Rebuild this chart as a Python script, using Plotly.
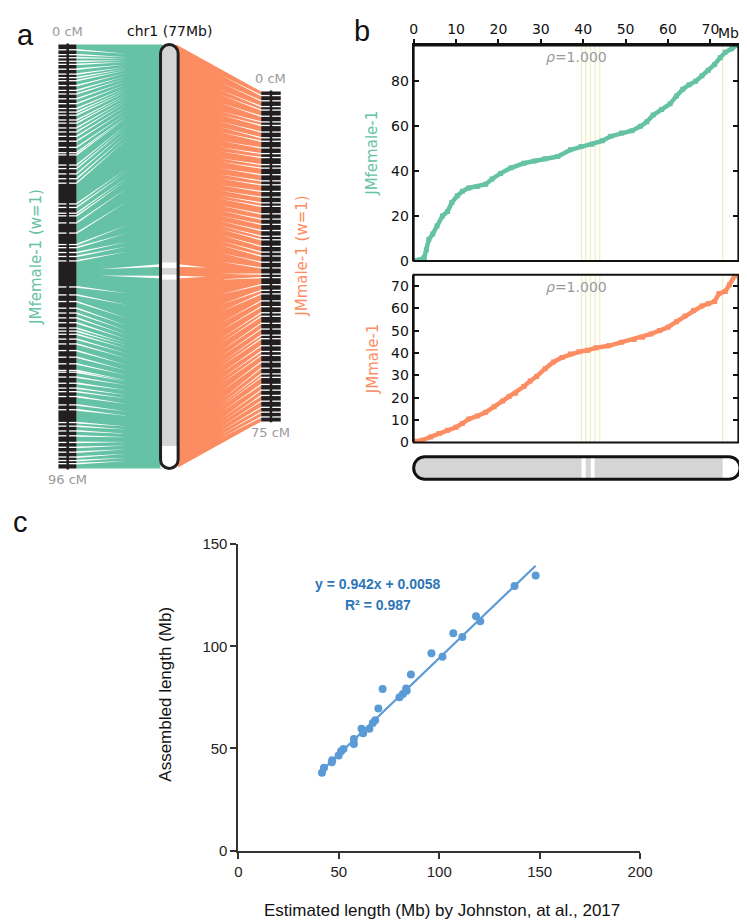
import numpy as np
import plotly.graph_objects as go

W, H = 747, 920

# ---------------- data ----------------
# panel b: genetic position (cM) vs physical position (Mb)
female_Mb = [0, 1.5, 2.5, 3.0, 3.6, 4.5, 5.5, 6.8, 8.0, 9.0, 10.3, 11.5, 13.0, 15.0, 17.0,
             18.5, 20.5, 23.0, 26.0, 28.5, 31.0, 34.0, 37.0, 39.5, 42.0, 44.5, 46.5, 49.0,
             51.5, 53.5, 55.0, 56.5, 58.5, 60.5, 62.0, 63.5, 65.0, 66.5, 68.0, 69.5, 71.0,
             72.3, 73.5, 75.0, 76.2]
female_cM = [0, 0.5, 1.5, 5.0, 9.6, 12.0, 15.5, 20.0, 22.0, 26.0, 29.0, 31.0, 32.5, 33.2, 34.2,
             36.5, 39.0, 41.5, 43.5, 44.5, 45.5, 46.5, 49.5, 51.0, 52.0, 53.5, 55.5, 57.0,
             58.0, 60.0, 62.0, 65.0, 67.5, 70.0, 73.5, 76.5, 78.5, 80.0, 82.5, 85.0, 87.5,
             90.5, 93.0, 94.5, 96.0]
male_Mb = [0, 2, 4, 6, 8, 10, 11.5, 13, 15, 17, 19, 21, 22.5, 24, 26, 27.5, 29, 31, 33, 35,
           37, 39, 41, 43, 46, 49, 52, 54, 56, 58, 60, 62, 64, 66, 68, 69.5, 71, 72, 73.5,
           74.5, 75.7]
male_cM = [0.5, 1, 2.5, 4, 5.5, 6.8, 8.5, 10.5, 11.8, 13.5, 16, 18.5, 20.5, 22, 25, 27.5,
           29.5, 33, 36, 38, 39.5, 40.5, 41.2, 42.3, 43.2, 44.8, 46, 47, 48.5, 50, 51.5, 54,
           56.5, 59, 61, 62, 63, 66.5, 67.5, 70.5, 74.5]
chr_name = "chr1"
chr_length_Mb = 77
female_map_len_cM = 96
male_map_len_cM = 75
chr_gaps_Mb = [(39.6, 40.6), (41.8, 42.7), (72.9, 77.0)]
gap_marks_Mb = [39.6, 40.6, 41.7, 42.8, 43.9, 72.9]
rho_female = 1.000
rho_male = 1.000
b_xticks = [0, 10, 20, 30, 40, 50, 60, 70]
b_female_yticks = [0, 20, 40, 60, 80]
b_male_yticks = [0, 10, 20, 30, 40, 50, 60, 70]

# panel a: gaps between markers on the two linkage maps (cM)
female_map_gaps_cM = [1.2, 2.3, 3.0, 3.8, 4.5, 5.6, 6.7, 7.5, 8.2, 9.3, 10.4, 11.2, 12.3, 13.4,
                      14.5, 15.3, 16.0, 17.1, 17.8, 18.9, 19.8, 20.8, 21.9, 23.3, 24.5, 25.0,
                      27.3, 28.1, 29.3, 30.4, 31.4, 36.1, 36.9, 38.2, 38.8, 40.4, 42.7, 45.3,
                      46.0, 47.1, 48.0, 49.0, 54.9, 56.7, 58.2, 59.7, 60.8, 61.9, 63.0, 64.2,
                      64.9, 65.6, 66.7, 67.8, 69.3, 70.8, 72.3, 73.8, 74.2, 75.3, 76.7, 77.8,
                      78.6, 79.7, 81.6, 82.7, 85.6, 86.4, 87.5, 88.6, 90.1, 91.2, 92.3, 93.4,
                      94.2, 94.9]
male_map_gaps_cM = [0.9, 2.1, 3.4, 4.2, 5.6, 6.9, 7.7, 9.2, 10.5, 11.3, 12.8, 14.1, 15.0, 16.6,
                    17.4, 18.9, 20.3, 21.2, 22.7, 24.0, 25.3, 26.1, 27.8, 29.0, 30.2, 31.6,
                    32.9, 33.7, 35.2, 36.5, 37.4, 38.8, 40.1, 41.5, 42.3, 43.9, 45.2, 46.0,
                    47.6, 48.9, 50.3, 51.1, 52.7, 54.0, 55.4, 56.2, 57.8, 59.1, 60.0, 61.5,
                    62.9, 64.2, 65.0, 66.6, 67.9, 69.1, 70.4, 71.8, 72.9, 74.0]

# panel c
est_len = [41.6, 42.6, 46.5, 46.7, 49.9, 51.1, 52.3, 57.5, 57.5, 61.3, 62.1, 65.2, 66.9, 68.1,
           69.7, 71.8, 80.2, 81.9, 83.5, 83.8, 85.9, 96.1, 101.6, 107.0, 111.5, 118.3, 120.4,
           137.5, 148.0]
asm_len = [38.1, 40.6, 43.2, 44.2, 46.6, 48.6, 49.7, 54.6, 52.2, 59.6, 57.4, 59.6, 62.5, 63.8,
           69.5, 79.1, 75.0, 76.6, 79.3, 78.2, 86.2, 96.6, 94.9, 106.4, 104.5, 114.7, 112.2,
           129.5, 134.6]
fit_slope, fit_intercept, fit_r2 = 0.942, 0.0058, 0.987
c_xticks = [0, 50, 100, 150, 200]
c_yticks = [0, 50, 100, 150]

# ---------------- styles / layout (pixels) ----------------
GREEN = "#66c2a5"
ORANGE = "#fc8d62"
GREY_TXT = "#9a9a9a"
CHR_FILL = "#d5d5d5"
YEL = "#efefc6"
BLUE = "#5b9bd5"
BLUE_TXT = "#2e75b6"
MPL = "DejaVu Sans"
ARIAL = "Liberation Sans"

LM_X0, LM_X1, LM_SP = 47.5, 66.0, 57.0
CH_X0, CH_X1 = 152.0, 170.0
RM_X0, RM_X1, RM_SP = 255.0, 275.0, 265.0
A_TOP, A_BOT = 28.0, 460.0
RM_TOP, RM_BOT = 76.0, 412.0


def y_left(cm):
    return A_TOP + cm / female_map_len_cM * (A_BOT - A_TOP)


def y_chr(mb):
    return A_TOP + mb / chr_length_Mb * (A_BOT - A_TOP)


def y_right(cm):
    return RM_TOP + cm / male_map_len_cM * (RM_BOT - RM_TOP)


def px_x(p):
    return p / W


def px_y(p):
    return 1 - p / H


def rrect(x0, x1, y0, y1, rx, ry):
    k = 0.5523
    return (f"M{x0+rx},{y0} L{x1-rx},{y0} C{x1-rx+k*rx},{y0} {x1},{y0+ry-k*ry} {x1},{y0+ry} "
            f"L{x1},{y1-ry} C{x1},{y1-ry+k*ry} {x1-rx+k*rx},{y1} {x1-rx},{y1} "
            f"L{x0+rx},{y1} C{x0+rx-k*rx},{y1} {x0},{y1-ry+k*ry} {x0},{y1-ry} "
            f"L{x0},{y0+ry} C{x0},{y0+ry-k*ry} {x0+rx-k*rx},{y0} {x0+rx},{y0} Z")


fig = go.Figure()

# ================= panel a (pixel canvas on x/y) =================
fig.add_trace(go.Scatter(
    x=[LM_X1, CH_X0 + 2, CH_X0 + 2, LM_X1, LM_X1],
    y=[y_left(0), y_chr(0), y_chr(chr_length_Mb), y_left(female_map_len_cM), y_left(0)],
    fill="toself", fillcolor=GREEN, line=dict(width=0), mode="lines", hoverinfo="skip"))
fig.add_trace(go.Scatter(
    x=[CH_X1 - 2, RM_X0, RM_X0, CH_X1 - 2, CH_X1 - 2],
    y=[y_chr(0), y_right(0), y_right(male_map_len_cM), y_chr(chr_length_Mb), y_chr(0)],
    fill="toself", fillcolor=ORANGE, line=dict(width=0), mode="lines", hoverinfo="skip"))

# white wedges where links are sparse
wx, wy = [], []
for g in female_map_gaps_cM:
    hw, f = 0.9, 0.6
    mb = float(np.interp(g, female_cM, female_Mb))
    yl, yc = y_left(g), y_chr(mb)
    ax, ay = LM_X1 + f * (CH_X0 - LM_X1), yl + f * (yc - yl)
    wx += [LM_X1, LM_X1, ax, LM_X1, None]
    wy += [yl - hw, yl + hw, ay, yl - hw, None]
for g in male_map_gaps_cM:
    hw, f = 0.7, 0.5
    mb = float(np.interp(g, male_cM, male_Mb))
    yr, yc = y_right(g), y_chr(mb)
    ax, ay = RM_X0 - f * (RM_X0 - CH_X1), yr + f * (yc - yr)
    wx += [RM_X0, RM_X0, ax, RM_X0, None]
    wy += [yr - hw, yr + hw, ay, yr - hw, None]
for a, b in chr_gaps_Mb[:2]:
    mid = (a + b) / 2
    cmf = float(np.interp(mid, female_Mb, female_cM))
    cmm = float(np.interp(mid, male_Mb, male_cM))
    y0, y1 = y_chr(mid - 0.25), y_chr(mid + 0.25)
    fa = 0.72
    ax = CH_X0 - fa * (CH_X0 - LM_X1)
    ay = y_chr(mid) + fa * (y_left(cmf) - y_chr(mid))
    wx += [CH_X0 + 2, CH_X0 + 2, ax, CH_X0 + 2, None]
    wy += [y0, y1, ay, y0, None]
    fb = 0.35
    ax = CH_X1 + fb * (RM_X0 - CH_X1)
    ay = y_chr(mid) + fb * (y_right(cmm) - y_chr(mid))
    wx += [CH_X1 - 2, CH_X1 - 2, ax, CH_X1 - 2, None]
    wy += [y0, y1, ay, y0, None]
fig.add_trace(go.Scatter(x=wx, y=wy, fill="toself", fillcolor="white", line=dict(width=0),
                         mode="lines", hoverinfo="skip"))

# linkage maps: black marker blocks with white gaps and a spine
for (x0, x1, sp, top, bot, gaps, yf) in [
        (LM_X0, LM_X1, LM_SP, y_left(0), y_left(female_map_len_cM), female_map_gaps_cM, y_left),
        (RM_X0, RM_X1, RM_SP, y_right(0), y_right(male_map_len_cM), male_map_gaps_cM, y_right)]:
    fig.add_trace(go.Scatter(x=[x0, x1, x1, x0, x0], y=[top, top, bot, bot, top], fill="toself",
                             fillcolor="#231f20", line=dict(width=0), mode="lines",
                             hoverinfo="skip"))
    gx, gy = [], []
    for g in gaps:
        gx += [x0 - 0.5, x1 + 0.5, None]
        gy += [yf(g), yf(g), None]
    fig.add_trace(go.Scatter(x=gx, y=gy, mode="lines", line=dict(color="white", width=1.3),
                             hoverinfo="skip"))
    fig.add_trace(go.Scatter(x=[sp, sp], y=[top - 1, bot + 1], mode="lines",
                             line=dict(color="#231f20", width=2.5), hoverinfo="skip"))

shapes = []
# vertical chromosome (panel a)
shapes.append(dict(type="path", xref="x", yref="y",
                   path=rrect(CH_X0, CH_X1, y_chr(0), y_chr(chr_length_Mb), 9, 9),
                   fillcolor=CHR_FILL, line=dict(width=0), layer="above"))
for a, b in chr_gaps_Mb:
    shapes.append(dict(type="rect", xref="x", yref="y", x0=CH_X0, x1=CH_X1, y0=y_chr(a),
                       y1=y_chr(b), fillcolor="white", line=dict(width=0), layer="above"))
shapes.append(dict(type="path", xref="x", yref="y",
                   path=rrect(CH_X0, CH_X1, y_chr(0), y_chr(chr_length_Mb), 9, 9),
                   fillcolor="rgba(0,0,0,0)", line=dict(color="#231f20", width=3),
                   layer="above"))

# ================= panel b =================
B_X0, B_X1 = 411.0, 743.3
B_RANGE = [0, 76.6]
kpx = (B_X1 - B_X0) / (B_RANGE[1] - B_RANGE[0])
T_Y0, T_Y1 = 29.0, 248.5
M_Y0, M_Y1 = 262.5, 433.5

for (xa, ya, ymax) in [("x2", "y2", female_map_len_cM), ("x3", "y3", male_map_len_cM)]:
    lx, ly = [], []
    for m in gap_marks_Mb:
        lx += [m, m, None]
        ly += [0, ymax, None]
    fig.add_trace(go.Scatter(x=lx, y=ly, mode="lines", line=dict(color=YEL, width=1.3),
                             xaxis=xa, yaxis=ya, hoverinfo="skip"))

fig.add_trace(go.Scatter(x=female_Mb, y=female_cM, mode="lines+markers",
                         line=dict(color=GREEN, width=4.5),
                         marker=dict(symbol="square", size=5, color=GREEN),
                         xaxis="x2", yaxis="y2", hoverinfo="skip"))
fig.add_trace(go.Scatter(x=male_Mb, y=male_cM, mode="lines+markers",
                         line=dict(color=ORANGE, width=4.5),
                         marker=dict(symbol="square", size=5, color=ORANGE),
                         xaxis="x3", yaxis="y3", hoverinfo="skip"))

for xa, ya in [("x2", "y2"), ("x3", "y3")]:
    shapes.append(dict(type="rect", xref=f"{xa} domain", yref=f"{ya} domain", x0=0, x1=1,
                       y0=0, y1=1, line=dict(color="#111111", width=2), layer="above"))

# horizontal chromosome (panel b)
X4_D0 = 400.0
x4_range = [(X4_D0 - B_X0) / kpx, (W - B_X0) / kpx]
BAR_Y0, BAR_Y1 = 448.0, 471.0
pad = 4.0
bar_h = BAR_Y1 - BAR_Y0
y4_range = [-pad / bar_h, 1 + pad / bar_h]
rx = (bar_h / 2) / kpx
shapes.append(dict(type="path", xref="x4", yref="y4", path=rrect(0, chr_length_Mb, 0, 1, rx, 0.5),
                   fillcolor=CHR_FILL, line=dict(width=0), layer="above"))
for a, b in chr_gaps_Mb:
    shapes.append(dict(type="rect", xref="x4", yref="y4", x0=a, x1=b, y0=0, y1=1,
                       fillcolor="white", line=dict(width=0), layer="above"))
shapes.append(dict(type="path", xref="x4", yref="y4", path=rrect(0, chr_length_Mb, 0, 1, rx, 0.5),
                   fillcolor="rgba(0,0,0,0)", line=dict(color="#111111", width=3),
                   layer="above"))
fig.add_trace(go.Scatter(x=[0], y=[0.5], mode="markers", marker=dict(opacity=0),
                         xaxis="x4", yaxis="y4", hoverinfo="skip"))

# ================= panel c =================
C_X0, C_X1 = 231.7, 642.7
C_Y0, C_Y1 = 537.0, 849.3
fig.add_trace(go.Scatter(x=est_len, y=asm_len, mode="markers",
                         marker=dict(color=BLUE, size=8), xaxis="x5", yaxis="y5",
                         hoverinfo="skip"))
fx = np.array([min(est_len), max(est_len)])
fig.add_trace(go.Scatter(x=fx, y=fit_slope * fx + fit_intercept, mode="lines",
                         line=dict(color=BLUE, width=2.2), xaxis="x5", yaxis="y5",
                         hoverinfo="skip"))

# ================= annotations =================
ann = []


def A(x, y, text, size, color, family, angle=0, xanchor="center", yanchor="middle"):
    ann.append(dict(x=x, y=y, xref="x", yref="y", text=text, showarrow=False,
                    font=dict(size=size, color=color, family=family), textangle=angle,
                    xanchor=xanchor, yanchor=yanchor))


A(14, 18, "a", 29, "#111111", ARIAL)
A(358, 14, "b", 29, "#111111", ARIAL)
A(9, 514, "c", 29, "#111111", ARIAL)
A(57, 15, "0 cM", 13, GREY_TXT, MPL)
A(57, 471, f"{female_map_len_cM} cM", 13, GREY_TXT, MPL)
A(265, 63, "0 cM", 13, GREY_TXT, MPL)
A(265, 423, f"{male_map_len_cM} cM", 13, GREY_TXT, MPL)
A(161, 14, f"{chr_name} ({chr_length_Mb}Mb)", 14, "#111111", MPL)
A(25, 244, "JMfemale-1 (w=1)", 15, GREEN, MPL, angle=-90)
A(297, 244, "JMmale-1 (w=1)", 15, ORANGE, MPL, angle=-90)
A(369, (T_Y0 + T_Y1) / 2, "JMfemale-1", 15, GREEN, MPL, angle=-90)
A(369, (M_Y0 + M_Y1) / 2, "JMmale-1", 15, ORANGE, MPL, angle=-90)
A((B_X0 + B_X1) / 2, T_Y0 + 12, f"<i>ρ</i>={rho_female:.3f}", 14, GREY_TXT, MPL)
A((B_X0 + B_X1) / 2, M_Y0 + 13, f"<i>ρ</i>={rho_male:.3f}", 14, GREY_TXT, MPL)
A(746, 16, "Mb", 14, "#111111", MPL, xanchor="right")
A(375, 578, f"<b>y = {fit_slope}x + {fit_intercept}</b>", 14, BLUE_TXT, ARIAL)
A(375, 599, f"<b>R² = {fit_r2}</b>", 14, BLUE_TXT, ARIAL)
A(157, 690, "Assembled length (Mb)", 17, "#111111", ARIAL, angle=-90)
A(440, 910, "Estimated length (Mb) by Johnston, at al., 2017", 17, "#111111", ARIAL)

tickfont_b = dict(family=MPL, size=14, color="#111111")
tickfont_c = dict(family=ARIAL, size=15, color="#222222")

fig.update_layout(
    width=W, height=H, margin=dict(l=0, r=0, t=0, b=0),
    paper_bgcolor="white", plot_bgcolor="rgba(0,0,0,0)", showlegend=False,
    shapes=shapes, annotations=ann,
    xaxis=dict(domain=[0, 1], range=[0, W], visible=False, fixedrange=True),
    yaxis=dict(domain=[0, 1], range=[H, 0], visible=False, fixedrange=True),
    xaxis2=dict(domain=[px_x(B_X0), px_x(B_X1)], range=B_RANGE, anchor="y2", side="top",
                tickvals=b_xticks, ticktext=[str(t) for t in b_xticks], ticks="outside",
                ticklen=4, tickwidth=1.5, tickcolor="#111111", showline=True,
                linecolor="#111111", linewidth=2, showgrid=False, zeroline=False,
                tickfont=tickfont_b),
    yaxis2=dict(domain=[px_y(T_Y1), px_y(T_Y0)], range=[0, female_map_len_cM], anchor="x2",
                tickvals=b_female_yticks, ticks="inside", ticklen=5, tickwidth=1.5,
                tickcolor="#111111", showline=True, mirror="ticks", linecolor="#111111",
                linewidth=2, showgrid=False, zeroline=False, tickfont=tickfont_b),
    xaxis3=dict(domain=[px_x(B_X0), px_x(B_X1)], range=B_RANGE, anchor="y3",
                showticklabels=False, ticks="", showline=False, showgrid=False,
                zeroline=False),
    yaxis3=dict(domain=[px_y(M_Y1), px_y(M_Y0)], range=[0, male_map_len_cM], anchor="x3",
                tickvals=b_male_yticks, ticks="inside", ticklen=5, tickwidth=1.5,
                tickcolor="#111111", showline=True, mirror="ticks", linecolor="#111111",
                linewidth=2, showgrid=False, zeroline=False, tickfont=tickfont_b),
    xaxis4=dict(domain=[px_x(X4_D0), 1], range=x4_range, anchor="y4", visible=False),
    yaxis4=dict(domain=[px_y(BAR_Y1 + pad), px_y(BAR_Y0 - pad)], range=y4_range,
                anchor="x4", visible=False),
    xaxis5=dict(domain=[px_x(C_X0), px_x(C_X1)], range=[0, 200], anchor="y5",
                tickvals=c_xticks, ticks="outside", ticklen=6, tickwidth=2,
                tickcolor="#333333", showline=True, linecolor="#333333", linewidth=2,
                showgrid=False, zeroline=False, tickfont=tickfont_c),
    yaxis5=dict(domain=[px_y(C_Y1), px_y(C_Y0)], range=[0, 150], anchor="x5",
                tickvals=c_yticks, ticks="outside", ticklen=6, tickwidth=2,
                tickcolor="#333333", showline=True, linecolor="#333333", linewidth=2,
                showgrid=False, zeroline=False, tickfont=tickfont_c),
)

fig.write_html("out.html")
